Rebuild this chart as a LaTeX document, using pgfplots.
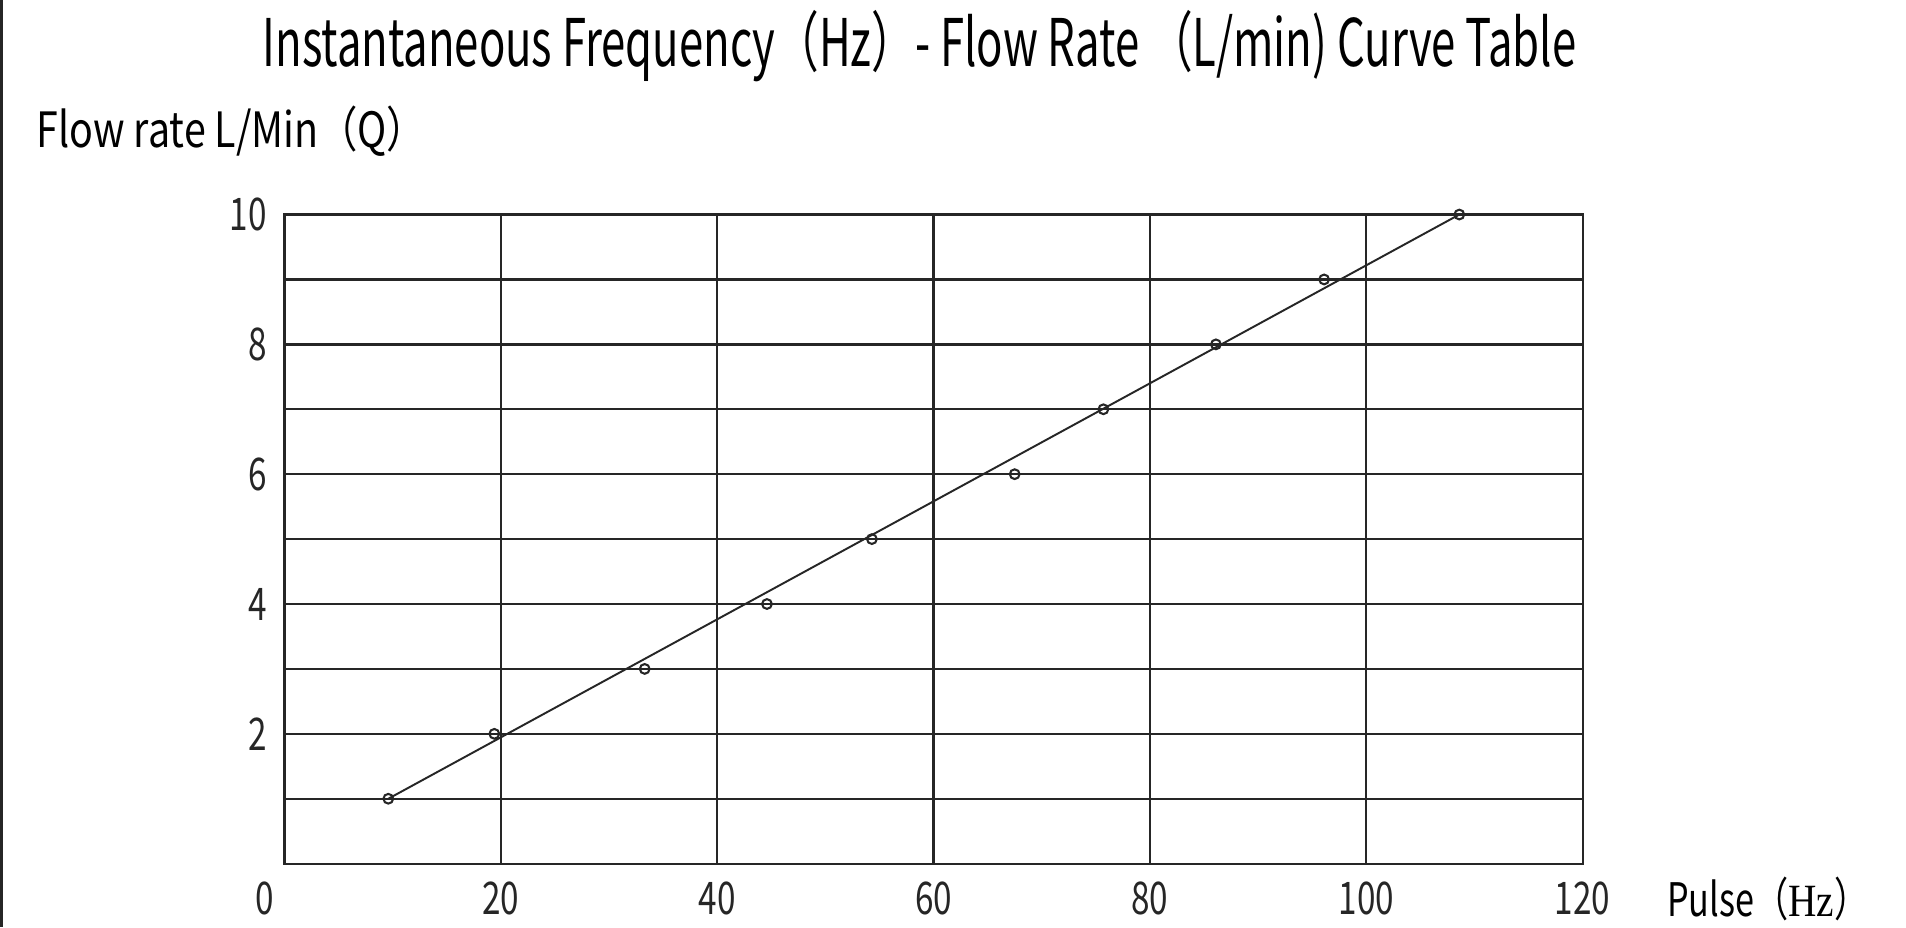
\documentclass[border=0pt]{standalone}
\usepackage{fontspec}
\setmainfont{Noto Sans CJK SC}[FakeStretch=0.74]
\newfontfamily\serifhz{Liberation Serif}[FakeStretch=0.85]
\newfontfamily\titlefont{Noto Sans CJK SC}[FakeStretch=0.665]
\newfontfamily\labelfont{Noto Sans CJK SC}[FakeStretch=0.81]
\usepackage{pgfplots}
\pgfplotsset{compat=1.18}
\definecolor{gridc}{HTML}{262626}
\begin{document}
\begin{tikzpicture}
\path[use as bounding box] (0,0) rectangle (784pt,-381.5pt);
\draw[gridc, line width=1pt] (0.6pt,0) -- (0.6pt,-381.5pt);
\begin{axis}[
  at={(117pt,-355.25pt)}, anchor=south west,
  width=534pt, height=267pt, scale only axis,
  xmin=0, xmax=120, ymin=0, ymax=10,
  xtick={20,40,...,120}, ytick={2,4,...,10},
  minor ytick={1,3,...,9},
  extra x ticks={0},
  extra x tick style={xticklabel style={xshift=-8pt}},
  grid=both,
  major grid style={gridc, line width=0.95pt},
  minor grid style={gridc, line width=0.95pt},
  axis line style={gridc, line width=0.95pt},
  major tick length=0pt, minor tick length=0pt,
  tick label style={font=\fontsize{18.5}{20}\selectfont, text=black!85, inner sep=0pt},
  xticklabel style={anchor=north, yshift=-7.2pt},
  yticklabel style={anchor=east, xshift=-7pt},
  /pgf/number format/assume math mode=true,
  clip=false,
]
% fitted line
\addplot[gridc, line width=0.8pt] coordinates {(9.6,1) (108.6,10)};
% measured points
\addplot[only marks, mark=o, mark size=2pt, mark options={line width=0.85pt, draw=gridc}] coordinates {
  (9.6,1) (19.4,2) (33.3,3) (44.6,4) (54.3,5)
  (67.5,6) (75.7,7) (86.1,8) (96.1,9) (108.6,10)
};
\end{axis}
\node[anchor=base, inner sep=0pt, font=\titlefont\fontsize{27}{30}\selectfont] at (378.25pt,-27.5pt) {Instantaneous Frequency（Hz）- Flow Rate （L/min) Curve Table};
\node[anchor=base west, inner sep=0pt, font=\labelfont\fontsize{20}{22}\selectfont] at (15pt,-60.5pt) {Flow rate L/Min（Q）};
\node[anchor=base west, inner sep=0pt, font=\fontsize{19}{22}\selectfont] at (685.5pt,-377pt) {Pulse（{\serifhz Hz}）};
\end{tikzpicture}
\end{document}
